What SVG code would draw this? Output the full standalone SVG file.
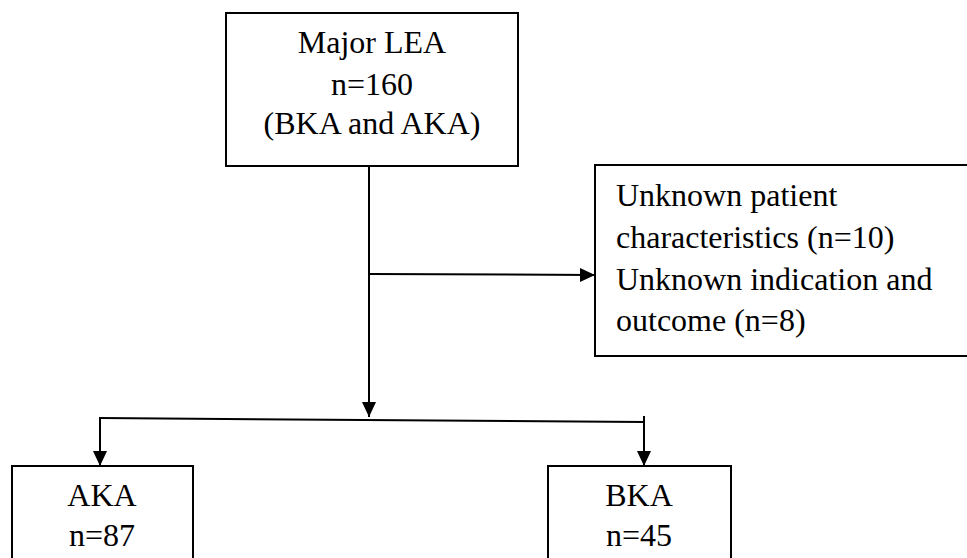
<svg xmlns="http://www.w3.org/2000/svg" width="967" height="558" viewBox="0 0 967 558">
<style>
.box{fill:#fff;stroke:#000;stroke-width:2}
.t{font-family:"Liberation Serif","Times New Roman",serif;font-size:32px;fill:#000}
.c{text-anchor:middle}
.ln{fill:none;stroke:#000;stroke-width:2}
</style>
<defs>
<marker id="ah" markerUnits="userSpaceOnUse" markerWidth="16" markerHeight="16" viewBox="0 0 16 16" refX="15" refY="8" orient="auto">
<path d="M0,1 L15,8 L0,15 Z" fill="#000"/>
</marker>
</defs>
<rect width="967" height="558" fill="#fff"/>
<g id="connectors">
<line class="ln" x1="369" y1="166" x2="369" y2="417" marker-end="url(#ah)"/>
<line class="ln" x1="369" y1="274" x2="595" y2="275" marker-end="url(#ah)"/>
<line class="ln" x1="100" y1="418" x2="644" y2="422"/>
<line class="ln" x1="100" y1="417" x2="100" y2="466" marker-end="url(#ah)"/>
<line class="ln" x1="644" y1="416" x2="644" y2="466" marker-end="url(#ah)"/>
</g>
<g id="major">
<rect class="box" x="226" y="13" width="292" height="153"/>
<text class="t c" x="372" y="53">Major LEA</text>
<text class="t c" x="372" y="95">n=160</text>
<text class="t c" x="372" y="134">(BKA and AKA)</text>
</g>
<g id="excluded">
<rect class="box" x="595" y="165" width="380" height="191"/>
<text class="t" x="616" y="206">Unknown patient</text>
<text class="t" x="616" y="248">characteristics (n=10)</text>
<text class="t" x="616" y="290">Unknown indication and</text>
<text class="t" x="616" y="331">outcome (n=8)</text>
</g>
<g id="aka">
<rect class="box" x="12" y="466" width="181" height="110"/>
<text class="t c" x="102" y="506">AKA</text>
<text class="t c" x="102" y="546">n=87</text>
</g>
<g id="bka">
<rect class="box" x="548" y="466" width="183" height="110"/>
<text class="t c" x="639" y="506">BKA</text>
<text class="t c" x="639" y="546">n=45</text>
</g>
</svg>
